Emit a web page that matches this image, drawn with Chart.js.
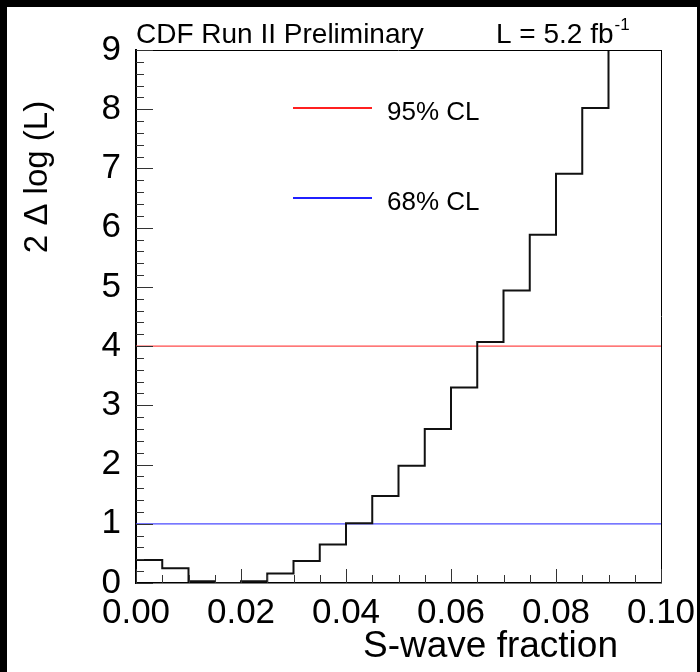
<!DOCTYPE html>
<html>
<head>
<meta charset="utf-8">
<title>S-wave fraction likelihood scan</title>
<script src="https://cdn.jsdelivr.net/npm/chart.js@4/dist/chart.umd.min.js"></script>
<style>
  html, body { margin: 0; padding: 0; background: #000; }
  canvas { display: block; }
</style>
</head>
<body>
<canvas id="scanChart" width="700" height="672"></canvas>
<script>
"use strict";

// lower edge of each histogram bin (S-wave fraction)
var binLow = [0.000, 0.005, 0.010, 0.015, 0.020, 0.025, 0.030, 0.035, 0.040, 0.045,
              0.050, 0.055, 0.060, 0.065, 0.070, 0.075, 0.080, 0.085, 0.090, 0.095];
var binHigh = 0.100;
// 2 delta log(L) per bin (last two are above the frame)
var deltaLogL = [0.39, 0.25, 0.03, 0.00, 0.03, 0.16, 0.37, 0.65, 1.01, 1.47,
                 1.98, 2.60, 3.30, 4.07, 4.94, 5.88, 6.91, 8.02, 9.30, 10.70];

var clLabels = ['95% CL', '68% CL'];
var clLevels = [4, 1];

var xRange = [0, 0.1];
var yRange = [0, 9];
var xTickStep = 0.02;
var yTickStep = 1;

var FONT = '"Liberation Sans", Arial, Helvetica, sans-serif';

function histPoints() {
    var pts = [];
    var i;
    for (i = 0; i < binLow.length; i++) {
        pts.push({x: binLow[i], y: deltaLogL[i]});
    }
    pts.push({x: binHigh, y: deltaLogL[deltaLogL.length - 1]});
    return pts;
}

function levelLine(v) {
    return [{x: xRange[0], y: v}, {x: xRange[1], y: v}];
}

/*
 * Black border, frame box, inner ticks and all the text
 */
var decorations = {
    id: 'decorations',
    beforeDraw: function (chart) {
        var ctx = chart.ctx;
        ctx.save();
        ctx.fillStyle = '#000';
        ctx.fillRect(0, 0, chart.width, chart.height);
        ctx.fillStyle = '#fff';
        ctx.fillRect(7, 7, 690, 665);
        ctx.restore();
    },
    afterDraw: function (chart) {
        var ctx = chart.ctx;
        var a = chart.chartArea;
        var xs = chart.scales.x;
        var ys = chart.scales.y;
        var i, p, len;

        ctx.save();
        // top and right of the frame
        ctx.strokeStyle = '#000';
        ctx.lineWidth = 1;
        ctx.beginPath();
        ctx.moveTo(a.left, Math.round(a.top) + 0.5);
        ctx.lineTo(a.right, Math.round(a.top) + 0.5);
        ctx.moveTo(Math.round(a.right) + 0.5, a.top);
        ctx.lineTo(Math.round(a.right) + 0.5, a.bottom);
        ctx.stroke();

        // y ticks, minor every 0.2
        ctx.strokeStyle = '#333';
        ctx.beginPath();
        for (i = 0; i <= 45; i++) {
            p = Math.round(ys.getPixelForValue(i * 0.2)) + 0.5;
            len = (i % 5 === 0) ? 17 : 8;
            ctx.moveTo(a.left, p);
            ctx.lineTo(a.left + len, p);
        }
        // x ticks, minor every 0.005
        for (i = 0; i <= 20; i++) {
            p = Math.round(xs.getPixelForValue(i * 0.005)) + 0.5;
            len = (i % 4 === 0) ? 14 : 8;
            ctx.moveTo(p, a.bottom);
            ctx.lineTo(p, a.bottom - len);
        }
        ctx.stroke();

        // header
        ctx.fillStyle = '#000';
        ctx.textAlign = 'left';
        ctx.textBaseline = 'alphabetic';
        ctx.font = '28px ' + FONT;
        ctx.fillText('CDF Run II Preliminary', 136, 43);
        ctx.fillText('L = 5.2 fb', 496, 43);
        var w = ctx.measureText('L = 5.2 fb').width;
        ctx.font = '17px ' + FONT;
        ctx.fillText('-1', 496 + w + 1, 30);

        // legend
        var legendColors = ['#ff2020', '#2020ff'];
        var legendY = [108, 198];
        ctx.lineWidth = 2;
        ctx.font = '26px ' + FONT;
        for (i = 0; i < clLabels.length; i++) {
            ctx.strokeStyle = legendColors[i];
            ctx.beginPath();
            ctx.moveTo(293, legendY[i]);
            ctx.lineTo(372, legendY[i]);
            ctx.stroke();
            ctx.fillText(clLabels[i], 387, legendY[i] + 12);
        }

        // axis titles
        ctx.font = '37px ' + FONT;
        ctx.textAlign = 'right';
        ctx.fillText('S-wave fraction', 618, 657);

        ctx.translate(47, 177);
        ctx.rotate(-Math.PI / 2);
        ctx.font = '33px ' + FONT;
        ctx.textAlign = 'center';
        ctx.fillText('2 \u0394 log (L)', 0, 0);
        ctx.restore();
    }
};

var config = {
    type: 'line',
    data: {
        datasets: [{
            label: 'scan',
            data: histPoints(),
            stepped: 'before',
            borderColor: '#111',
            borderWidth: 2,
            pointRadius: 0,
            fill: false,
            order: 0
        }, {
            label: clLabels[0],
            data: levelLine(clLevels[0]),
            borderColor: '#ff4a4a',
            borderWidth: 1.2,
            pointRadius: 0,
            fill: false,
            order: 1
        }, {
            label: clLabels[1],
            data: levelLine(clLevels[1]),
            borderColor: '#4a4aff',
            borderWidth: 1.2,
            pointRadius: 0,
            fill: false,
            order: 1
        }]
    },
    options: {
        responsive: false,
        animation: false,
        layout: {
            padding: {left: 0, top: 50, right: 39, bottom: 0}
        },
        plugins: {
            legend: {display: false},
            tooltip: {enabled: false}
        },
        scales: {
            x: {
                type: 'linear',
                min: xRange[0],
                max: xRange[1],
                grid: {display: false},
                border: {display: true, color: '#000', width: 1.5},
                ticks: {
                    stepSize: xTickStep,
                    autoSkip: false,
                    maxRotation: 0,
                    padding: 1,
                    color: '#000',
                    font: {family: FONT, size: 35},
                    callback: function (v) { return Number(v).toFixed(2); }
                },
                afterFit: function (s) { s.height = 89; }
            },
            y: {
                type: 'linear',
                min: yRange[0],
                max: yRange[1],
                grid: {display: false},
                border: {display: true, color: '#000', width: 2},
                ticks: {
                    stepSize: yTickStep,
                    autoSkip: false,
                    padding: 7,
                    color: '#000',
                    font: {family: FONT, size: 35}
                },
                afterFit: function (s) { s.width = 136; }
            }
        }
    },
    plugins: [decorations]
};

var scanChart = new Chart(document.getElementById('scanChart'), config);
</script>
</body>
</html>
